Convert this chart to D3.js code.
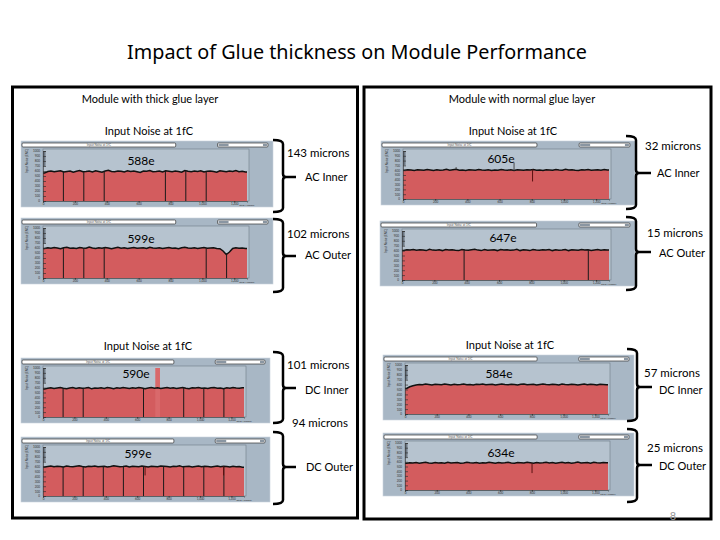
<!DOCTYPE html>
<html>
<head>
<meta charset="utf-8">
<script src="https://cdnjs.cloudflare.com/ajax/libs/d3/7.8.5/d3.min.js"></script>
<style>
  body { margin: 0; background: #fff; }
  svg text { font-family: Lato, "Noto Sans", sans-serif; }
</style>
</head>
<body>
<div id="slide"></div>
<script>
// ---- data ----
const strips = 1280;
const noiseLabels = ["588e", "599e", "590e", "599e", "605e", "647e", "584e", "634e"];
const thicknessLabels = ["143 microns", "102 microns", "101 microns", "94 microns",
                         "32 microns", "15 microns", "57 microns", "25 microns"];
const regionLabels = ["AC Inner", "AC Outer", "DC Inner", "DC Outer",
                      "AC Inner", "AC Outer", "DC Inner", "DC Outer"];

// noise per group of 20 strips (axis units, 0-1000)
const trace588 = [560,590,600,585,595,605,580,590,600,575,595,610,585,590,600,580,605,590,575,600,615,590,585,600,595,580,605,590,600,585,570,600,595,610,585,590,600,580,605,595,585,600,590,575,610,595,585,600,590,605,580,595,600,590,575,605,595,585,600,590,610,585,595,580];
const trace599a = [590,605,595,610,600,585,605,615,595,600,590,610,600,595,620,600,590,605,595,610,600,585,600,615,595,605,590,600,610,595,600,605,590,615,600,595,605,590,600,610,595,600,585,605,615,600,595,605,590,600,610,595,600,605,590,585,540,470,520,590,605,595,600,590];
const trace590 = [570,585,595,580,590,600,585,575,590,600,580,595,585,590,600,575,590,585,595,580,600,590,575,595,585,600,590,580,595,585,600,590,575,590,600,585,595,580,590,600,585,595,580,590,600,585,575,595,590,600,585,590,580,595,600,585,590,575,595,585,600,590,585,595];
const trace599b = [590,600,610,595,605,600,590,610,600,595,605,615,600,590,605,600,610,595,600,605,590,600,615,605,595,600,610,590,605,600,595,610,600,590,605,600,595,610,605,600,590,605,600,615,595,600,605,590,600,610,595,605,600,590,600,610,595,605,600,590,605,595,600,585];
const trace605 = [600,610,605,595,610,605,600,615,605,595,610,600,605,620,600,610,620,600,605,595,610,605,600,615,605,600,610,595,605,600,615,605,600,610,595,610,605,600,610,605,615,600,605,595,610,605,600,615,605,600,620,605,610,600,595,610,605,615,600,605,610,600,615,605];
const trace647 = [600,615,610,620,605,615,610,600,625,610,605,615,600,620,610,615,605,600,620,610,605,615,625,610,600,620,605,610,615,600,620,610,615,605,610,625,600,615,610,600,620,610,605,615,610,620,600,615,605,610,620,600,615,610,605,620,610,615,600,610,620,605,615,610];
const trace584 = [520,555,575,590,600,595,610,600,590,605,600,595,610,600,590,605,595,600,610,595,600,590,605,600,610,595,600,605,590,600,610,600,595,605,600,590,605,610,595,600,605,590,600,610,600,595,605,600,590,610,600,595,605,600,590,600,610,595,605,600,590,605,600,595];
const trace634 = [570,580,575,585,570,580,590,575,570,585,575,580,570,590,575,580,585,570,575,590,580,575,585,570,580,575,590,580,570,585,575,580,590,575,570,585,580,575,590,580,570,585,575,580,590,575,585,570,580,590,575,585,570,580,595,575,580,585,570,590,580,575,585,580];
const traces = [trace588, trace599a, trace590, trace599b, trace605, trace647, trace584, trace634];

// dead strips drawn down to zero
const dead588 = [128, 256, 384, 768, 896, 1024];
const dead599a = [128, 256, 384, 1024, 1152];
const dead590 = [128, 256, 640, 896, 1024, 1152];
const dead599b = [128, 256, 384, 512, 640, 768, 896, 1024, 1152];
const dead647 = [384, 1152];
const deadStrips = [dead588, dead599a, dead590, dead599b, [], dead647, [], []];

// single-strip excursions [strip, value]
const spikes599b = [[650, 420], [1150, 420]];
const spikes605 = [[690, 760], [330, 665], [805, 365]];
const spikes634 = [[801, 360]];
const spikeStrips = [[], [], [], spikes599b, spikes605, [], [], spikes634];

// hot block in the DC inner thick module [from, to, value]
const hotBlocks = [[], [], [[715, 745, 1000]], [], [], [], [], []];

const xTicks = [0, 200, 400, 600, 800, 1000, 1200];
const yTicks = [0, 100, 200, 300, 400, 500, 600, 700, 800, 900, 1000];

// ---- layout ----
const W = 720, H = 540;
const panels = [
  {x: 21, y: 141, w: 252, h: 66}, {x: 21, y: 218, w: 252, h: 66},
  {x: 21, y: 358, w: 249, h: 65}, {x: 21, y: 437, w: 249, h: 65},
  {x: 381, y: 141, w: 254, h: 64}, {x: 380, y: 221, w: 255, h: 65},
  {x: 383, y: 355, w: 251, h: 65}, {x: 383, y: 433, w: 251, h: 63}
];
const labelPos = [[141, 165], [141, 243], [136, 378], [138, 458],
                  [501, 163], [503, 242], [499, 378], [501, 457]];
const thickPos = [[287, 157], [287, 238], [287, 369], [292, 427],
                  [645, 150], [647, 237], [644, 377], [647, 452]];
const regionPos = [[305, 181], [305, 259], [305, 394], [306, 471],
                   [657, 177], [659, 257], [659, 394], [659, 470]];
const brackets = [
  {x: 283, t: 140, m: 177, b: 212, tick: 13}, {x: 283, t: 219, m: 256, b: 292, tick: 13},
  {x: 283, t: 352, m: 388, b: 423, tick: 13}, {x: 283, t: 432, m: 467, b: 504, tick: 13},
  {x: 636, t: 136, m: 173, b: 209, tick: 15}, {x: 636, t: 217, m: 252, b: 290, tick: 15},
  {x: 637, t: 349, m: 387, b: 421, tick: 15}, {x: 637, t: 429, m: 465, b: 502, tick: 15}
];

const svg = d3.select("#slide").append("svg")
  .attr("width", W).attr("height", H);

svg.append("text")
  .attr("x", 357).attr("y", 59)
  .attr("text-anchor", "middle")
  .style("font-family", "'Noto Sans', sans-serif")
  .style("font-size", "19.8px")
  .text("Impact of Glue thickness on Module Performance");

// outer boxes
svg.append("rect").attr("x", 12.5).attr("y", 87).attr("width", 345).attr("height", 431)
  .attr("fill", "none").attr("stroke", "#000").attr("stroke-width", 3);
svg.append("rect").attr("x", 364).attr("y", 87).attr("width", 347).attr("height", 432)
  .attr("fill", "none").attr("stroke", "#000").attr("stroke-width", 3);

const heads = [
  {t: "Module with thick glue layer", x: 150, y: 103},
  {t: "Module with normal glue layer", x: 522, y: 103},
  {t: "Input Noise at 1fC", x: 149, y: 135},
  {t: "Input Noise at 1fC", x: 513, y: 135},
  {t: "Input Noise at 1fC", x: 148, y: 350},
  {t: "Input Noise at 1fC", x: 510, y: 349}
];
svg.selectAll("text.head").data(heads).join("text")
  .attr("class", "head")
  .attr("x", d => d.x).attr("y", d => d.y)
  .attr("text-anchor", "middle")
  .style("font-size", "11px")
  .text(d => d.t);

// one noise screenshot-like panel
function drawPanel(i) {
  const p = panels[i];
  const g = svg.append("g").attr("transform", `translate(${p.x},${p.y})`);
  const left = 22, right = p.w - 26, top = 8, bottom = p.h - 6;

  const x = d3.scaleLinear().domain([0, strips]).range([left, right]);
  const y = d3.scaleLinear().domain([0, 1000]).range([bottom, top + 2]);

  g.append("rect").attr("width", p.w).attr("height", p.h)
    .attr("fill", "#a8b7c5").attr("stroke", "#c9d3dc").attr("stroke-width", 0.6);

  // top controls
  g.append("rect").attr("x", 1).attr("y", 2).attr("width", p.w * 0.61).attr("height", 4)
    .attr("rx", 1).attr("fill", "#fff").attr("stroke", "#333").attr("stroke-width", 0.7);
  g.append("text").attr("x", 1 + p.w * 0.305).attr("y", 5.2).attr("text-anchor", "middle")
    .style("font-size", "3px").attr("fill", "#555").text("Input Noise at 1fC");
  g.append("rect").attr("x", p.w * 0.78).attr("y", 2).attr("width", p.w * 0.2).attr("height", 4)
    .attr("rx", 1).attr("fill", "#fff").attr("stroke", "#333").attr("stroke-width", 0.7);
  g.append("rect").attr("x", p.w * 0.78 + 1).attr("y", 2.8).attr("width", 10).attr("height", 2.4)
    .attr("fill", "#8a96a2");
  g.append("rect").attr("x", p.w * 0.98 - 5).attr("y", 2.8).attr("width", 4).attr("height", 2.4)
    .attr("fill", "#8a96a2");

  // plot frame
  g.append("rect").attr("x", left).attr("y", top).attr("width", right - left + 2)
    .attr("height", bottom - top).attr("fill", "#b6c3cf")
    .attr("stroke", "#6f7c88").attr("stroke-width", 0.6);

  const vals = traces[i];
  const step = strips / vals.length;
  const pts = vals.map((v, k) => [k * step + step / 2, v]);
  pts.unshift([0, vals[0]]);
  pts.push([strips, vals[vals.length - 1]]);
  const valueAt = s => vals[Math.min(vals.length - 1, Math.floor(s / step))];

  g.append("path").datum(pts)
    .attr("d", d3.area().x(d => x(d[0])).y0(y(0)).y1(d => y(d[1])))
    .attr("fill", "#d35c5e");

  // dark strip of the first channels
  g.append("rect").attr("x", x(0)).attr("y", y(1000)).attr("width", x(16) - x(0))
    .attr("height", y(700) - y(1000)).attr("fill", "#6e7985");

  hotBlocks[i].forEach(b => {
    g.append("rect").attr("x", x(b[0])).attr("y", y(b[2]))
      .attr("width", x(b[1]) - x(b[0])).attr("height", y(0) - y(b[2]))
      .attr("fill", "#d9696b");
  });

  g.append("path").datum(pts)
    .attr("d", d3.line().x(d => x(d[0])).y(d => y(d[1])))
    .attr("fill", "none").attr("stroke", "#111").attr("stroke-width", 1.5);

  g.selectAll("line.dead").data(deadStrips[i]).join("line")
    .attr("class", "dead")
    .attr("x1", d => x(d)).attr("x2", d => x(d))
    .attr("y1", d => y(valueAt(d))).attr("y2", y(0))
    .attr("stroke", "#1a1a1a").attr("stroke-width", 1);

  g.selectAll("line.spike").data(spikeStrips[i]).join("line")
    .attr("class", "spike")
    .attr("x1", d => x(d[0])).attr("x2", d => x(d[0]))
    .attr("y1", d => y(valueAt(d[0]))).attr("y2", d => y(d[1]))
    .attr("stroke", d => d[1] > valueAt(d[0]) ? "#4b4b4b" : "#5a1010")
    .attr("stroke-width", 1);

  // axes
  const ya = g.append("g").attr("transform", `translate(${left},0)`)
    .call(d3.axisLeft(y).tickValues(yTicks).tickSize(-3).tickPadding(3).tickFormat(d3.format("d")));
  ya.select(".domain").attr("stroke", "#333").attr("stroke-width", 0.6);
  ya.selectAll(".tick line").attr("stroke", "#333").attr("stroke-width", 0.7);
  ya.selectAll("text").style("font-size", "3px").attr("fill", "#333");

  const xa = g.append("g").attr("transform", `translate(0,${bottom})`)
    .call(d3.axisBottom(x).tickValues(xTicks).tickSize(1.5).tickPadding(0.5));
  xa.select(".domain").attr("stroke", "#333").attr("stroke-width", 0.6);
  xa.selectAll(".tick line").attr("stroke", "#333");
  xa.selectAll("text").style("font-size", "3px").attr("fill", "#333");

  g.append("text").attr("x", x(1200) + 5).attr("y", p.h - 0.8)
    .style("font-size", "2.6px").attr("fill", "#333").text("Strip Number");
  g.append("text").attr("transform", `translate(7,${top + 12}) rotate(-90)`)
    .attr("text-anchor", "middle").style("font-size", "3px").attr("fill", "#333")
    .text("Input Noise [ENC]");

  // noise value
  svg.append("text").attr("x", labelPos[i][0]).attr("y", labelPos[i][1])
    .attr("text-anchor", "middle").style("font-size", "12px")
    .text(noiseLabels[i]);
}

panels.forEach((p, i) => drawPanel(i));

// braces with labels
svg.selectAll("path.brace").data(brackets).join("path")
  .attr("class", "brace")
  .attr("d", b => `M${b.x - 10},${b.t} Q${b.x},${b.t} ${b.x},${b.t + 4} L${b.x},${b.m - 3}
     Q${b.x},${b.m} ${b.x + 3},${b.m} L${b.x + b.tick},${b.m} M${b.x + 3},${b.m}
     Q${b.x},${b.m} ${b.x},${b.m + 3} L${b.x},${b.b - 4} Q${b.x},${b.b} ${b.x - 10},${b.b}`)
  .attr("fill", "none").attr("stroke", "#000").attr("stroke-width", 2.5);

svg.selectAll("text.thick").data(thicknessLabels).join("text")
  .attr("class", "thick")
  .attr("x", (d, i) => thickPos[i][0]).attr("y", (d, i) => thickPos[i][1])
  .style("font-size", "11.5px")
  .text(d => d);

svg.selectAll("text.region").data(regionLabels).join("text")
  .attr("class", "region")
  .attr("x", (d, i) => regionPos[i][0]).attr("y", (d, i) => regionPos[i][1])
  .style("font-size", "11px")
  .text(d => d);

svg.append("text").attr("x", 673).attr("y", 520).attr("text-anchor", "middle")
  .style("font-size", "11px").attr("fill", "#999").text("8");
</script>
</body>
</html>
